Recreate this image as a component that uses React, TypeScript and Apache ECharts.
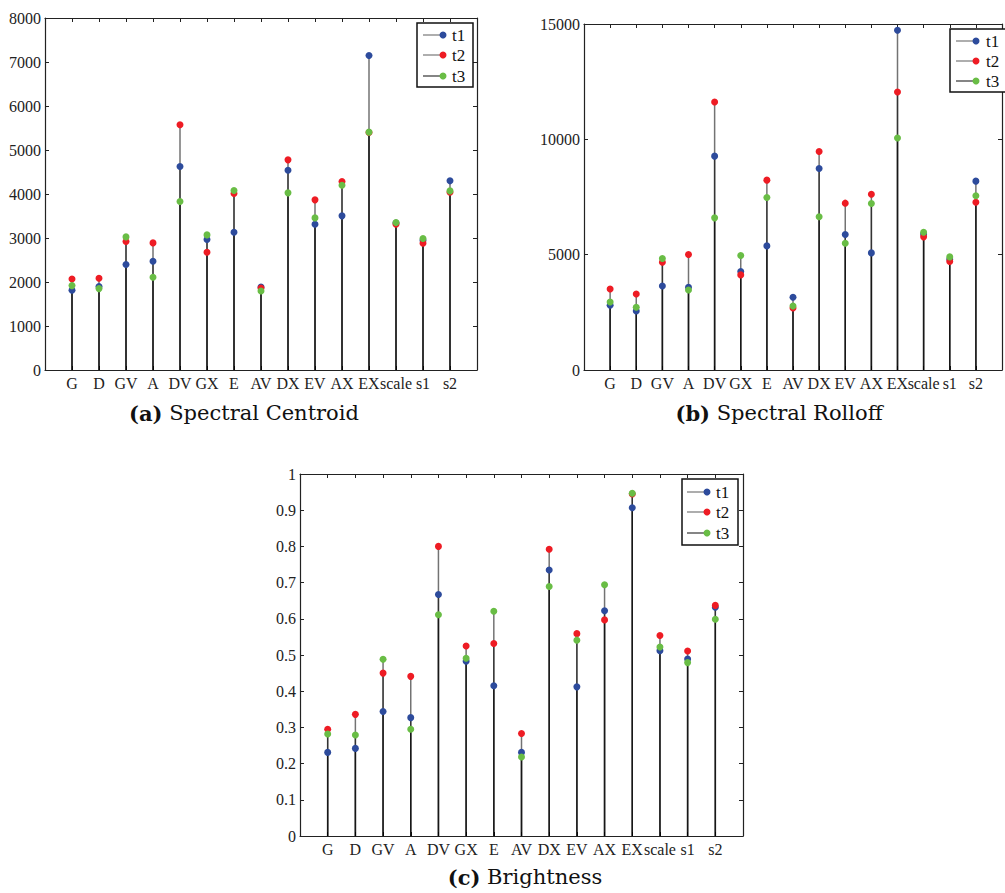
import React, { useEffect, useRef } from "react";
import * as echarts from "echarts";

const categories = ["G", "D", "GV", "A", "DV", "GX", "E", "AV", "DX", "EV", "AX", "EX", "scale", "s1", "s2"];
const seriesNames = ["t1", "t2", "t3"];

const centroidT1 = [1812, 1895, 2396, 2472, 4625, 2964, 3131, 1888, 4541, 3313, 3503, 7149, 3340, 2950, 4299];
const centroidT2 = [2070, 2085, 2919, 2889, 5572, 2676, 4011, 1865, 4776, 3867, 4284, 5398, 3313, 2881, 4041];
const centroidT3 = [1918, 1850, 3025, 2108, 3829, 3071, 4079, 1797, 4026, 3457, 4200, 5406, 3351, 2987, 4071];

const rolloffT1 = [2806, 2560, 3645, 3587, 9272, 4267, 5381, 3153, 8737, 5873, 5077, 14726, 5900, 4800, 8188];
const rolloffT2 = [3515, 3298, 4672, 5005, 11616, 4123, 8231, 2690, 9475, 7233, 7623, 12050, 5772, 4701, 7276];
const rolloffT3 = [2951, 2720, 4831, 3472, 6596, 4962, 7479, 2777, 6640, 5497, 7218, 10054, 5974, 4904, 7551];

const brightT1 = [0.231, 0.242, 0.344, 0.327, 0.667, 0.483, 0.415, 0.231, 0.735, 0.412, 0.622, 0.907, 0.512, 0.489, 0.632];
const brightT2 = [0.295, 0.336, 0.45, 0.441, 0.8, 0.525, 0.532, 0.283, 0.792, 0.559, 0.597, 0.945, 0.554, 0.511, 0.637];
const brightT3 = [0.282, 0.279, 0.488, 0.295, 0.611, 0.491, 0.621, 0.218, 0.689, 0.541, 0.694, 0.947, 0.522, 0.479, 0.599];

const colors = ["#2d4b9c", "#ee1c24", "#69bd45"];
const FONT = "Liberation Serif";
const CAP_FONT = "DejaVu Serif";

const panels = [
  {
    grid: { left: 45, top: 18, width: 432, height: 352 },
    yMax: 8000, yInterval: 1000,
    data: [centroidT1, centroidT2, centroidT3],
    legend: { x: 417, y: 23, w: 56, h: 64, rows: [35, 55, 76], lx: 423, dx: 443, tx: 452 },
    caption: { x: 244, y: 413, tag: "(a)", text: "Spectral Centroid" },
  },
  {
    grid: { left: 584, top: 24, width: 425, height: 346 },
    yMax: 15000, yInterval: 5000,
    data: [rolloffT1, rolloffT2, rolloffT3],
    legend: { x: 950, y: 29, w: 62, h: 63, rows: [41, 61, 81], lx: 956, dx: 976, tx: 986 },
    caption: { x: 779, y: 413, tag: "(b)", text: "Spectral Rolloff" },
  },
  {
    grid: { left: 300, top: 474, width: 443, height: 362 },
    yMax: 1, yInterval: 0.1,
    data: [brightT1, brightT2, brightT3],
    legend: { x: 682, y: 479, w: 56, h: 66, rows: [492, 512, 533], lx: 687, dx: 707, tx: 716 },
    caption: { x: 525, y: 877, tag: "(c)", text: "Brightness" },
  },
];

export default function App() {
  const ref = useRef<HTMLDivElement>(null);
  useEffect(() => {
    if (!ref.current) return;
    const chart = echarts.init(ref.current, undefined, { renderer: "svg" });
    const grids: any[] = [];
    const xAxes: any[] = [];
    const yAxes: any[] = [];
    const series: any[] = [];
    const graphic: any[] = [];
    const axisLine = { show: true, onZero: false, lineStyle: { color: "#222", width: 1.2 } };
    const axisTick = { show: true, inside: true, length: 4, lineStyle: { color: "#222" } };
    panels.forEach((p, pi) => {
      grids.push({ ...p.grid, containLabel: false });
      const xBase = {
        type: "value", gridIndex: pi, min: 0, max: 16, interval: 1,
        splitLine: { show: false }, axisLine, axisTick,
      };
      xAxes.push({
        ...xBase, position: "bottom",
        axisLabel: {
          fontFamily: FONT, fontSize: 16, color: "#222", margin: 5,
          formatter: (v: number) => categories[Math.round(v) - 1] ?? "",
        },
      });
      xAxes.push({ ...xBase, position: "top", axisLabel: { show: false } });
      const yBase = {
        type: "value", gridIndex: pi, min: 0, max: p.yMax, interval: p.yInterval,
        splitLine: { show: false }, axisLine, axisTick,
      };
      yAxes.push({
        ...yBase, position: "left",
        axisLabel: {
          fontFamily: FONT, fontSize: 16, color: "#222", margin: 4,
          formatter: (v: number) => String(Math.round(v * 1000) / 1000),
        },
      });
      yAxes.push({ ...yBase, position: "right", axisLabel: { show: false } });

      p.data.forEach((vals, si) => {
        const pts = vals.map((v, i) => [i + 1, v]);
        series.push({
          type: "custom", name: seriesNames[si], xAxisIndex: pi * 2, yAxisIndex: pi * 2,
          data: pts, z: 2, encode: { x: 0, y: 1 },
          renderItem: (params: any, api: any) => {
            const x = api.value(0);
            const y = api.value(1);
            const a = api.coord([x, 0]);
            const b = api.coord([x, y]);
            return {
              type: "line",
              shape: { x1: a[0], y1: a[1], x2: b[0], y2: b[1] },
              style: { stroke: "rgba(0,0,0,0.55)", lineWidth: 1.5 },
            };
          },
        });
      });
      p.data.forEach((vals, si) => {
        series.push({
          type: "scatter", name: seriesNames[si], xAxisIndex: pi * 2, yAxisIndex: pi * 2,
          data: vals.map((v, i) => [i + 1, v]), symbolSize: 7, z: 3 + si,
          itemStyle: { color: colors[si], opacity: 1 },
        });
      });

      const L = p.legend;
      graphic.push({
        type: "rect", shape: { x: L.x, y: L.y, width: L.w, height: L.h },
        style: { fill: "#fff", stroke: "#111", lineWidth: 1.5 }, z: 10,
      });
      L.rows.forEach((ry, si) => {
        graphic.push({
          type: "line", shape: { x1: L.lx, y1: ry, x2: L.dx, y2: ry },
          style: { stroke: si < 2 ? "#777" : "#333", lineWidth: 1.2 }, z: 11,
        });
        graphic.push({
          type: "circle", shape: { cx: L.dx, cy: ry, r: 3.5 },
          style: { fill: colors[si] }, z: 12,
        });
        graphic.push({
          type: "text", x: L.tx, y: ry, z: 12,
          style: {
            text: seriesNames[si], fontFamily: FONT, fontSize: 17, fill: "#111",
            verticalAlign: "middle", textAlign: "left",
          },
        });
      });
      const C = p.caption;
      graphic.push({
        type: "text", x: C.x, y: C.y, z: 12,
        style: {
          text: `{b|${C.tag}}  {n|${C.text}}`,
          textAlign: "center", verticalAlign: "middle",
          rich: {
            b: { fontFamily: CAP_FONT, fontWeight: "bold", fontSize: 21, fill: "#111" },
            n: { fontFamily: CAP_FONT, fontSize: 21, fill: "#111" },
          },
        },
      });
    });

    chart.setOption({
      animation: false,
      backgroundColor: "#fff",
      textStyle: { fontFamily: FONT },
      grid: grids,
      xAxis: xAxes,
      yAxis: yAxes,
      series,
      graphic,
    });
    return () => chart.dispose();
  }, []);
  return (
    <div
      ref={ref}
      style={{ position: "absolute", left: 0, top: 0, width: 1005, height: 893 }}
    />
  );
}
